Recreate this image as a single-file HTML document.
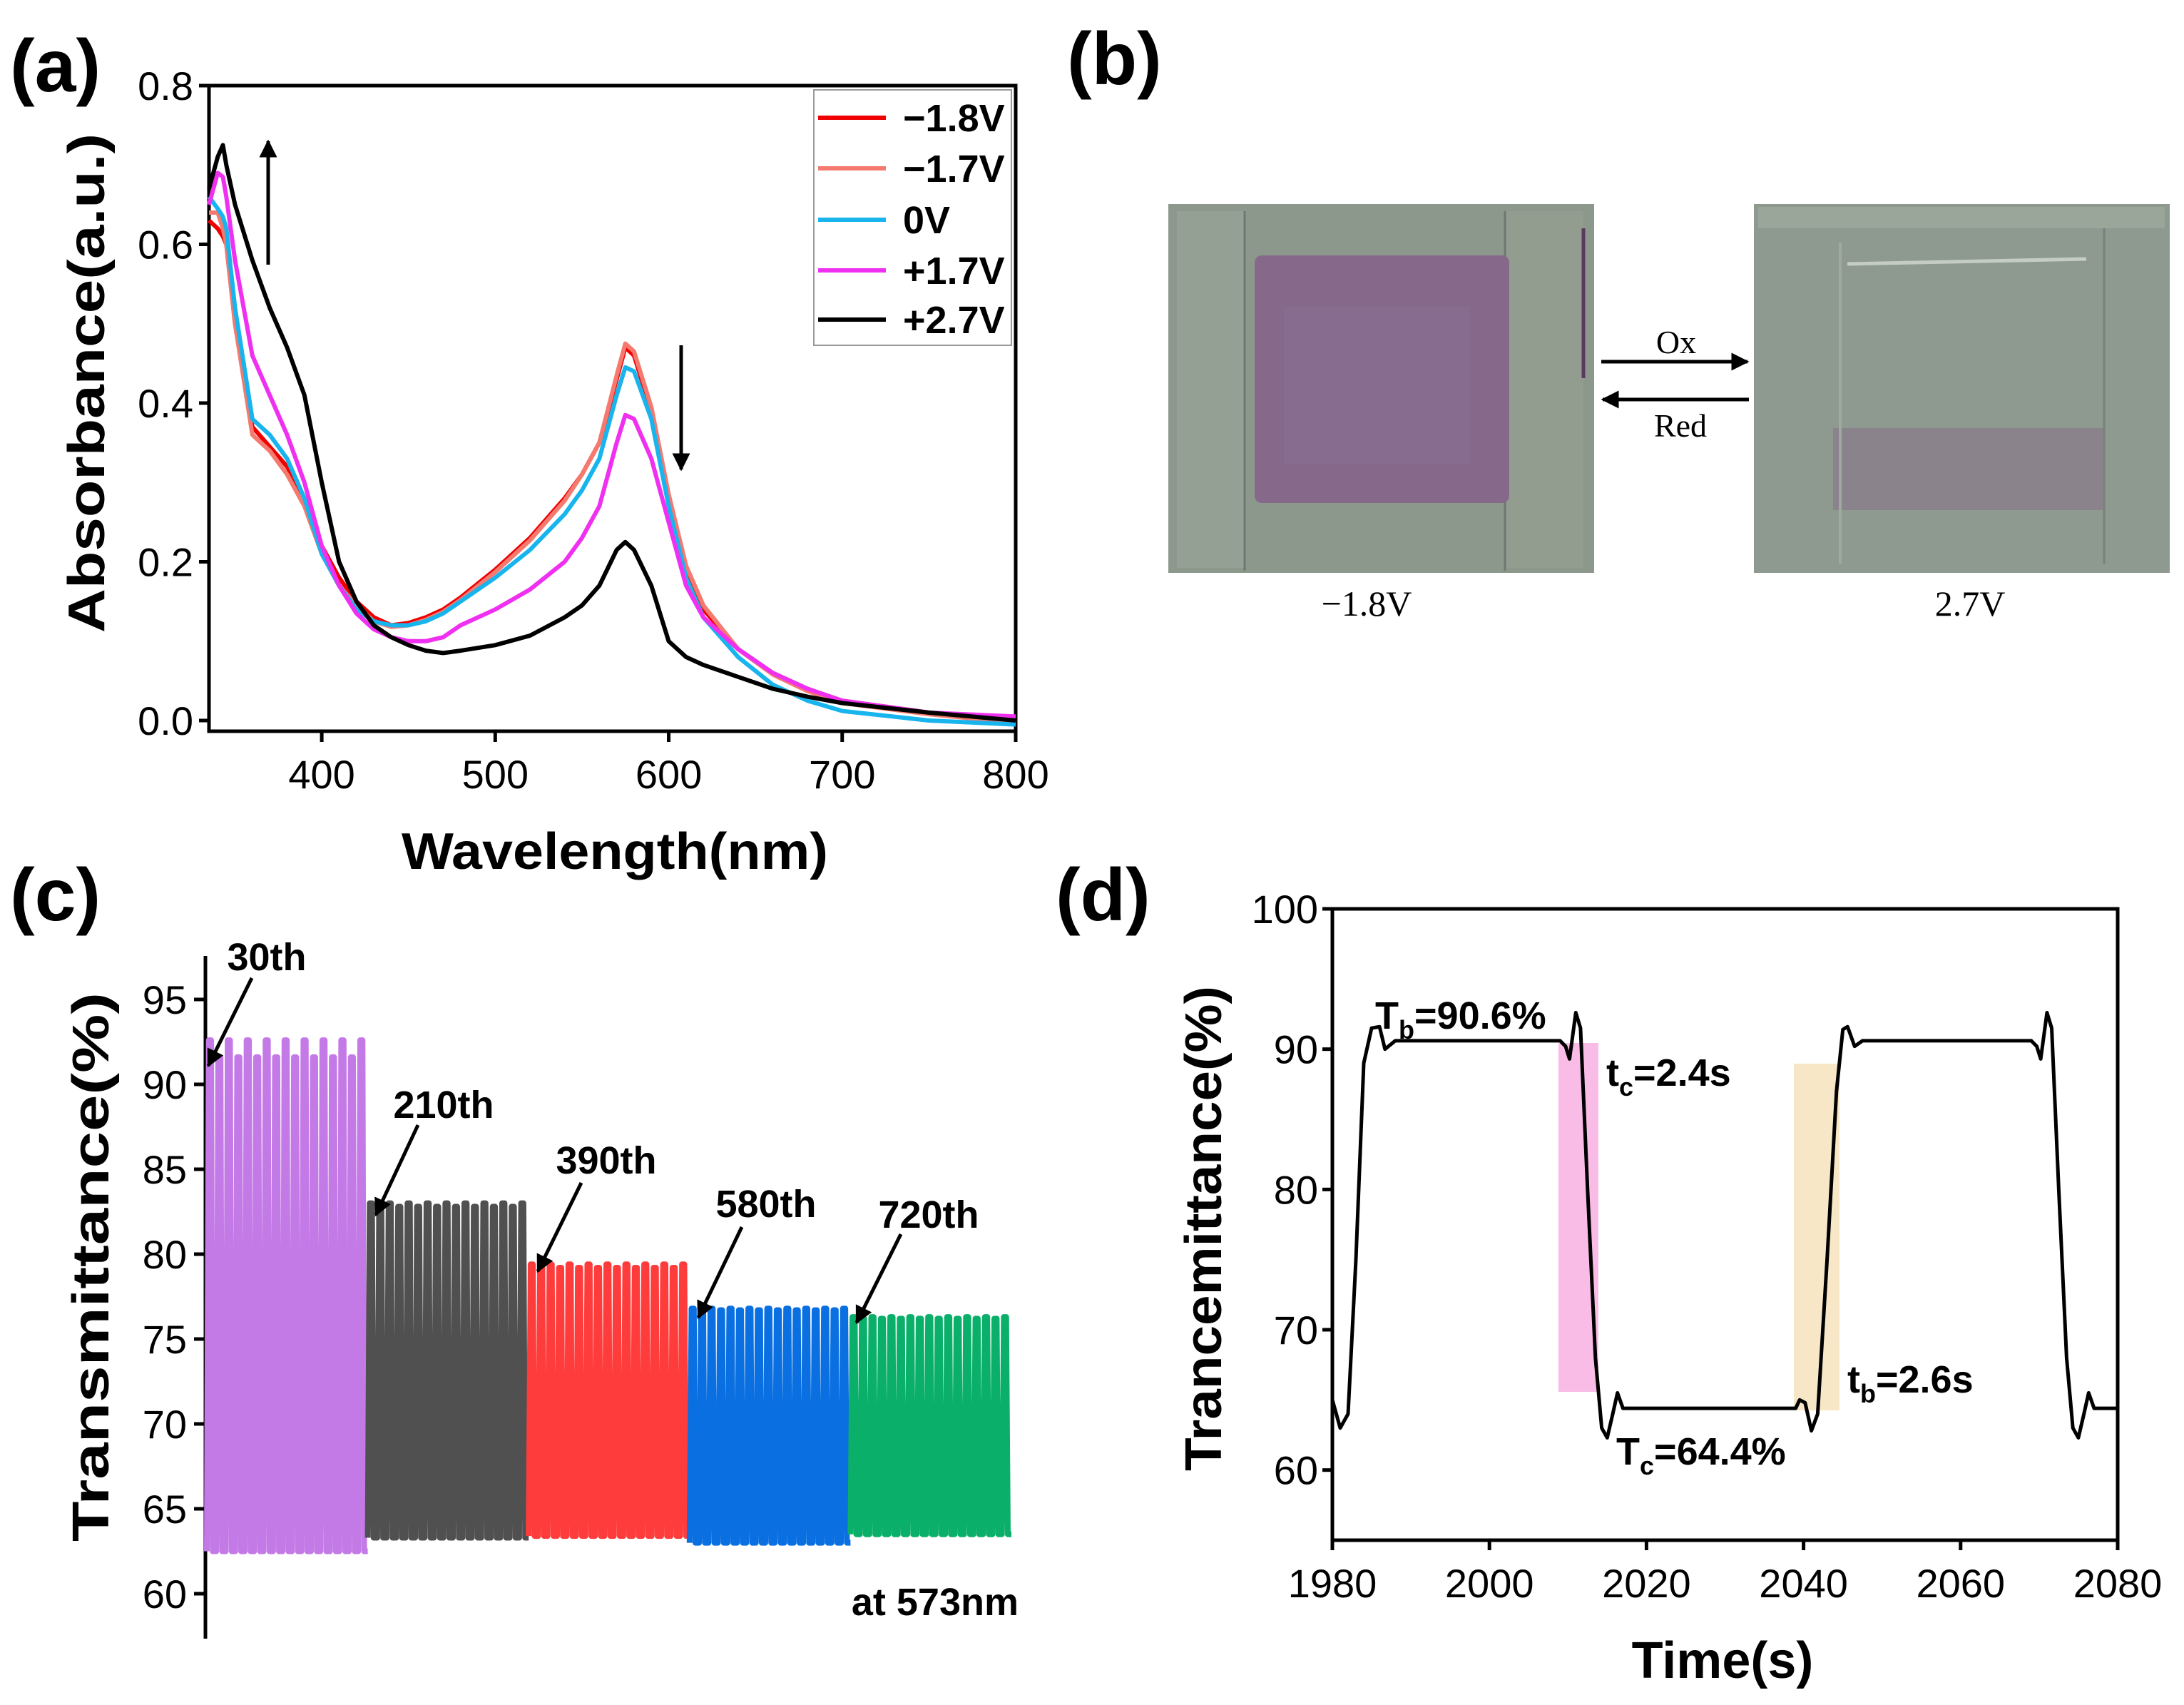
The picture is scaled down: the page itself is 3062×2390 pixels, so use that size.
<!DOCTYPE html>
<html><head><meta charset="utf-8">
<style>
html,body{margin:0;padding:0;background:#fff;}
svg{display:block;}
.tk{font-family:"Liberation Sans Narrow","Liberation Sans",sans-serif;font-size:56px;fill:#000;}
.bt{font-family:"Liberation Sans",sans-serif;font-weight:bold;fill:#000;}
.bn{font-family:"Liberation Sans Narrow","Liberation Sans",sans-serif;font-weight:bold;fill:#000;}
.sf{font-family:"Liberation Serif",serif;fill:#000;}
</style></head>
<body>
<svg id="root" width="3062" height="2390" viewBox="0 0 3062 2390" xmlns="http://www.w3.org/2000/svg">
<defs>
<marker id="ah" viewBox="0 0 10 10" refX="9" refY="5" markerWidth="5" markerHeight="5" orient="auto"><path d="M0,0 L10,5 L0,10 z" fill="#000"/></marker>
</defs>
<text class="bt" x="14" y="128" font-size="104">(a)</text>
<text class="bt" x="1496" y="118" font-size="104">(b)</text>
<text class="bt" x="14" y="1290" font-size="104">(c)</text>
<text class="bt" x="1480" y="1290" font-size="104">(d)</text>

<g id="pa"></g>
<g id="pb">
  <g>
    <rect x="1638" y="286" width="597" height="517" fill="#8d988c"/>
    <rect x="1650" y="296" width="95" height="500" fill="#94a093"/>
    <rect x="2110" y="296" width="110" height="500" fill="#929d90"/>
    <line x1="1745" y1="296" x2="1745" y2="800" stroke="#6f786e" stroke-width="3"/>
    <line x1="2110" y1="296" x2="2110" y2="800" stroke="#6f786e" stroke-width="3"/>
    <line x1="2220" y1="320" x2="2220" y2="530" stroke="#5a3a5e" stroke-width="5"/>
    <rect x="1759" y="358" width="357" height="347" rx="10" fill="#86698a"/>
    <rect x="1800" y="430" width="260" height="220" fill="#8f75a0" opacity="0.3"/>
  </g>
  <g>
    <rect x="2459" y="286" width="583" height="517" fill="#8e9a8f"/>
    <rect x="2465" y="290" width="570" height="30" fill="#9aa69a"/>
    <rect x="2570" y="600" width="380" height="115" fill="#86718a" opacity="0.55"/>
    <line x1="2590" y1="370" x2="2925" y2="363" stroke="#c5cdc3" stroke-width="5"/>
    <line x1="2580" y1="340" x2="2580" y2="790" stroke="#9fa99f" stroke-width="4"/>
    <line x1="2950" y1="320" x2="2950" y2="790" stroke="#77827a" stroke-width="3"/>
  </g>
  <line x1="2245" y1="507" x2="2450" y2="507" stroke="#000" stroke-width="5" marker-end="url(#ah)"/>
  <line x1="2452" y1="560" x2="2247" y2="560" stroke="#000" stroke-width="5" marker-end="url(#ah)"/>
  <text class="sf" x="2350" y="495" font-size="46" text-anchor="middle">Ox</text>
  <text class="sf" x="2356" y="612" font-size="46" text-anchor="middle">Red</text>
  <text class="sf" x="1916" y="863" font-size="50" text-anchor="middle">−1.8V</text>
  <text class="sf" x="2762" y="863" font-size="50" text-anchor="middle">2.7V</text>
</g>
<g id="pc"></g>
<g id="pd"></g>
</svg>
<script>
const NS="http://www.w3.org/2000/svg";
function mk(parent,tag,attrs,text){const e=document.createElementNS(NS,tag);for(const k in attrs)e.setAttribute(k,attrs[k]);if(text!==undefined)e.textContent=text;parent.appendChild(e);return e;}

const wavelengths=[335,340,343,345,350,360,370,380,390,400,410,420,430,440,450,460,470,480,500,520,540,550,560,570,575,580,590,600,610,620,640,660,680,700,750,800];
const absM18=[0.63,0.62,0.61,0.60,0.50,0.37,0.345,0.32,0.28,0.22,0.18,0.15,0.13,0.12,0.123,0.13,0.14,0.155,0.19,0.23,0.28,0.31,0.35,0.43,0.47,0.46,0.39,0.28,0.19,0.14,0.09,0.06,0.04,0.025,0.01,0.0];
const absM17=[0.64,0.64,0.62,0.60,0.50,0.36,0.34,0.31,0.27,0.21,0.17,0.145,0.125,0.118,0.12,0.127,0.137,0.152,0.187,0.227,0.277,0.31,0.35,0.435,0.475,0.465,0.395,0.285,0.195,0.145,0.09,0.058,0.037,0.022,0.008,-0.003];
const abs0V=[0.66,0.645,0.635,0.62,0.52,0.38,0.36,0.33,0.28,0.21,0.17,0.14,0.125,0.12,0.12,0.125,0.135,0.15,0.18,0.215,0.26,0.29,0.33,0.41,0.445,0.44,0.38,0.27,0.18,0.13,0.08,0.045,0.025,0.012,0.0,-0.005];
const absP17=[0.65,0.69,0.685,0.66,0.58,0.46,0.41,0.36,0.30,0.22,0.17,0.135,0.115,0.105,0.10,0.10,0.105,0.12,0.14,0.165,0.20,0.23,0.27,0.35,0.385,0.38,0.33,0.25,0.17,0.13,0.09,0.06,0.04,0.025,0.01,0.005];
const absP27=[0.67,0.71,0.725,0.70,0.65,0.58,0.52,0.47,0.41,0.30,0.20,0.15,0.12,0.105,0.095,0.088,0.085,0.088,0.095,0.107,0.13,0.145,0.17,0.215,0.225,0.215,0.17,0.10,0.08,0.07,0.055,0.04,0.03,0.022,0.01,0.0];
const absSeries=[absM18,absM17,abs0V,absP17,absP27];
const absLabels=["−1.8V","−1.7V","0V","+1.7V","+2.7V"];
const absColors=["#f00000","#f47a70","#18b4ee","#f030f0","#000000"];
const absXTicks=[400,500,600,700,800];
const absYTicks=["0.0","0.2","0.4","0.6","0.8"];

(function(){
  const g=document.getElementById('pa');
  const X0=293,X1=1424,Y0=1010,Y1=120;
  const xs=v=>X0+(v-335)/(800-335)*(X1-X0);
  const ys=v=>Y0-(v/0.8)*(Y0-Y1);
  mk(g,'rect',{x:X0,y:Y1,width:X1-X0,height:1025-Y1,fill:'none',stroke:'#000','stroke-width':5});
  absXTicks.forEach(t=>{
    const x=xs(t);
    mk(g,'line',{x1:x,y1:1025,x2:x,y2:1040,stroke:'#000','stroke-width':5});
    const e=mk(g,'text',{class:'tk',x:x,y:1105,'text-anchor':'middle'},String(t));
    
    
  });
  absYTicks.forEach(t=>{
    const y=ys(parseFloat(t));
    mk(g,'line',{x1:X0-14,y1:y,x2:X0,y2:y,stroke:'#000','stroke-width':5});
    const e=mk(g,'text',{class:'tk',x:X0-22,y:y+20,'text-anchor':'end'},t);
    
    
  });
  absSeries.forEach((s,i)=>{
    const d=s.map((v,j)=>(j?'L':'M')+xs(wavelengths[j]).toFixed(1)+','+ys(v).toFixed(1)).join(' ');
    const p=mk(g,'path',{d:d,fill:'none',stroke:absColors[i],'stroke-width':6,'stroke-linejoin':'round'});
    
    
  });
  const lg=mk(g,'g',{});
  
  
  mk(lg,'rect',{x:1141,y:126,width:277,height:358,fill:'#fff',stroke:'#999','stroke-width':2});
  const ly=[165,236,308,379,448];
  absLabels.forEach((l,i)=>{
    mk(lg,'line',{x1:1147,y1:ly[i],x2:1242,y2:ly[i],stroke:absColors[i],'stroke-width':6});
    const t=mk(lg,'text',{class:'bn',x:1266,y:ly[i]+19,'font-size':54},l);
    
    
  });
  mk(g,'line',{x1:376,y1:371,x2:376,y2:198,stroke:'#000','stroke-width':5,'marker-end':'url(#ah)'});
  mk(g,'line',{x1:955,y1:484,x2:955,y2:658,stroke:'#000','stroke-width':5,'marker-end':'url(#ah)'});
  const yt=mk(g,'text',{class:'bt',x:0,y:0,'font-size':72,'text-anchor':'middle',textLength:700,lengthAdjust:'spacingAndGlyphs',transform:'translate(146,537) rotate(-90)'},'Absorbance(a.u.)');
  
  
  const xt=mk(g,'text',{class:'bt',x:862,y:1218,'font-size':72,'text-anchor':'middle',textLength:598,lengthAdjust:'spacingAndGlyphs'},'Wavelength(nm)');
  
  
})();

const cycleLabels=["30th","210th","390th","580th","720th"];
const segColors=["#c47ae6","#505050","#ff3c3c","#0a6fe0","#0aaf6a"];
const segTopsA=[92.6,83.0,79.4,76.8,76.3];
const segTopsB=[91.6,82.8,79.2,76.7,76.2];
const segBottoms=[62.5,63.3,63.4,63.0,63.5];
const cyclesPerSeg=17;
const transYTicks=[60,65,70,75,80,85,90,95];

(function(){
  const g=document.getElementById('pc');
  const X0=290,X1=1418,Y95=1401,Y60=2234;
  const ys=v=>Y60-(v-60)/35*(Y60-Y95);
  const total=cyclesPerSeg*segColors.length;
  const xs=c=>X0+c/total*(X1-X0);
  mk(g,'line',{x1:288,y1:1340,x2:288,y2:2297,stroke:'#000','stroke-width':5});
  transYTicks.forEach(t=>{
    const y=ys(t);
    mk(g,'line',{x1:272,y1:y,x2:288,y2:y,stroke:'#000','stroke-width':5});
    const e=mk(g,'text',{class:'tk',x:262,y:y+20,'text-anchor':'end'},String(t));
    
    
  });
  segColors.forEach((col,s)=>{
    let d='';
    for(let k=0;k<cyclesPerSeg;k++){
      const c=s*cyclesPerSeg+k;
      const top=k%2?segTopsB[s]:segTopsA[s];
      const b=segBottoms[s];
      const p=[[c,b],[c+0.2,top],[c+0.45,top],[c+0.62,b],[c+1,b]];
      p.forEach((q,j)=>{d+=((k===0&&j===0)?'M':'L')+xs(q[0]).toFixed(1)+','+ys(q[1]).toFixed(1)+' ';});
    }
    const path=mk(g,'path',{d:d,fill:'none',stroke:col,'stroke-width':8,'stroke-linejoin':'round'});
    
    
  });
  const lab=[[374,1360,353,1371,292,1494],[622,1567,586,1577,527,1703],[850,1645,815,1658,754,1782],[1074,1706,1040,1720,979,1847],[1302,1721,1263,1730,1201,1854]];
  cycleLabels.forEach((l,i)=>{
    const a=lab[i];
    const t=mk(g,'text',{class:'bn',x:a[0],y:a[1],'font-size':54,'text-anchor':'middle'},l);
    
    
    mk(g,'line',{x1:a[2],y1:a[3],x2:a[4],y2:a[5],stroke:'#000','stroke-width':5,'marker-end':'url(#ah)'});
  });
  const n=mk(g,'text',{class:'bn',x:1428,y:2264,'font-size':54,'text-anchor':'end'},'at 573nm');
  
  
  const yt=mk(g,'text',{class:'bt',x:0,y:0,'font-size':72,'text-anchor':'middle',textLength:770,lengthAdjust:'spacingAndGlyphs',transform:'translate(152,1776) rotate(-90)'},'Transmittance(%)');
  
  
})();

const timeS=[1980,1981,1982,1983,1984,1985,1986,1986.7,1988,2000,2009,2009.7,2010.2,2011,2011.6,2012.5,2013.5,2014.3,2015,2015.7,2016.3,2017,2030,2039,2039.5,2040.2,2041,2041.8,2043,2044.2,2045,2045.6,2046.5,2047.5,2060,2069,2069.7,2070.2,2071,2071.6,2072.5,2073.5,2074.3,2075,2075.7,2076.3,2077,2080];
const transD=[65,63,64,75,89,91.5,91.6,90,90.6,90.6,90.6,90.2,89.3,92.6,91.5,80,68,63,62.3,64,65.5,64.4,64.4,64.4,65,64.8,62.8,64,75,87,91.4,91.6,90.2,90.6,90.6,90.6,90.2,89.3,92.6,91.5,80,68,63,62.3,64,65.5,64.4,64.4];
const timeTicks=[1980,2000,2020,2040,2060,2080];
const tdYTicks=[60,70,80,90,100];

(function(){
  const g=document.getElementById('pd');
  const X0=1868,X1=2969,Y0=2159,Y1=1274;
  const xs=v=>X0+(v-1980)/100*(X1-X0);
  const ys=v=>Y0-(v-55)/45*(Y0-Y1);
  const r1=mk(g,'rect',{x:2185,y:1462,width:56,height:489,fill:'#f7a6de',opacity:0.75});
  
  
  const r2=mk(g,'rect',{x:2515,y:1491,width:64,height:486,fill:'#f6e1b8',opacity:0.8});
  
  
  mk(g,'rect',{x:X0,y:Y1,width:X1-X0,height:Y0-Y1,fill:'none',stroke:'#000','stroke-width':5});
  timeTicks.forEach(t=>{
    const x=xs(t);
    mk(g,'line',{x1:x,y1:Y0,x2:x,y2:Y0+14,stroke:'#000','stroke-width':5});
    const e=mk(g,'text',{class:'tk',x:x,y:Y0+80,'text-anchor':'middle'},String(t));
    
    
  });
  tdYTicks.forEach(t=>{
    const y=ys(t);
    mk(g,'line',{x1:X0-14,y1:y,x2:X0,y2:y,stroke:'#000','stroke-width':5});
    const e=mk(g,'text',{class:'tk',x:X0-20,y:y+20,'text-anchor':'end'},String(t));
    
    
  });
  const d=transD.map((v,j)=>(j?'L':'M')+xs(timeS[j]).toFixed(1)+','+ys(v).toFixed(1)).join(' ');
  const p=mk(g,'path',{d:d,fill:'none',stroke:'#000','stroke-width':5,'stroke-linejoin':'round'});
  
  
  function ann(x,y,main,sub,rest,name){
    const t=mk(g,'text',{class:'bn',x:x,y:y,'font-size':54},'');
    
    
    mk(t,'tspan',{},main);
    mk(t,'tspan',{dy:14,'font-size':36},sub);
    mk(t,'tspan',{dy:-14},rest);
  }
  ann(1928,1442,'T','b','=90.6%','bleached-transmittance-label');
  ann(2252,1522,'t','c','=2.4s','coloring-time-label');
  ann(2590,1952,'t','b','=2.6s','bleaching-time-label');
  ann(2266,2053,'T','c','=64.4%','colored-transmittance-label');
  const yt=mk(g,'text',{class:'bt',x:0,y:0,'font-size':72,'text-anchor':'middle',textLength:680,lengthAdjust:'spacingAndGlyphs',transform:'translate(1712,1722) rotate(-90)'},'Trancemittance(%)');
  
  
  const xt=mk(g,'text',{class:'bt',x:2415,y:2352,'font-size':72,'text-anchor':'middle'},'Time(s)');
  
  
})();
</script>
</body></html>
